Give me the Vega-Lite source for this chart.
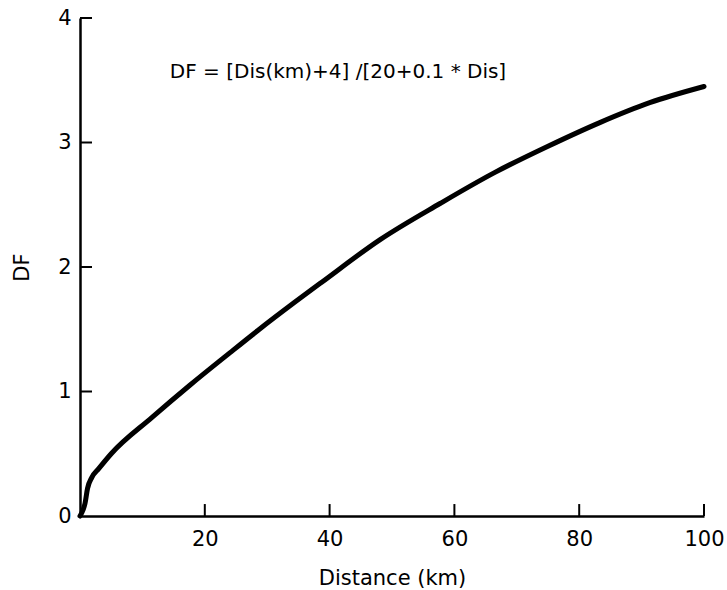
{
  "$schema": "https://vega.github.io/schema/vega-lite/v6.json",
  "width": 624,
  "height": 498,
  "autosize": "none",
  "padding": {"left": 80, "top": 18, "right": 23, "bottom": 74},
  "background": "white",
  "config": {
    "view": {"stroke": null},
    "font": "DejaVu Sans",
    "axis": {
      "grid": false,
      "ticks": false,
      "labelFlush": false,
      "domainColor": "black",
      "domainWidth": 2.5,
      "labelColor": "black",
      "titleColor": "black",
      "titleFontWeight": "normal"
    }
  },
  "layer": [
    {
      "data": {
        "values": [
          {"dis": 0, "df": 0},
          {"dis": 0.5, "df": 0.05},
          {"dis": 0.8, "df": 0.1},
          {"dis": 1.2, "df": 0.22},
          {"dis": 1.9, "df": 0.31},
          {"dis": 3, "df": 0.38},
          {"dis": 5, "df": 0.5},
          {"dis": 11.5, "df": 0.79},
          {"dis": 17.6, "df": 1.05},
          {"dis": 24, "df": 1.31},
          {"dis": 28.5, "df": 1.49},
          {"dis": 34.5, "df": 1.72},
          {"dis": 38.8, "df": 1.88},
          {"dis": 48.1, "df": 2.22},
          {"dis": 57.7, "df": 2.51},
          {"dis": 66.5, "df": 2.76},
          {"dis": 75, "df": 2.97},
          {"dis": 83.3, "df": 3.16},
          {"dis": 91.3, "df": 3.32},
          {"dis": 100, "df": 3.45}
        ]
      },
      "mark": {"type": "line", "color": "black", "strokeWidth": 5, "interpolate": "monotone", "strokeCap": "round"},
      "encoding": {
        "x": {
          "field": "dis", "type": "quantitative",
          "scale": {"domain": [0, 100], "nice": false},
          "axis": {"title": "Distance (km)", "values": [20, 40, 60, 80, 100], "format": "d",
                   "labelFont": "DejaVu Sans", "labelFontSize": 21, "labelPadding": 12,
                   "titleFont": "DejaVu Sans", "titleFontSize": 21, "titlePadding": 18}
        },
        "y": {
          "field": "df", "type": "quantitative",
          "scale": {"domain": [0, 4], "nice": false},
          "axis": {"title": "DF", "values": [0, 1, 2, 3, 4], "format": "d",
                   "labelFont": "DejaVu Sans", "labelFontSize": 21, "labelPadding": 9,
                   "titleFont": "DejaVu Sans", "titleFontSize": 21, "titlePadding": 25}
        }
      }
    },
    {
      "data": {"values": [{"v": 20}, {"v": 40}, {"v": 60}, {"v": 80}, {"v": 100}]},
      "mark": {"type": "rule", "color": "black", "strokeWidth": 2},
      "encoding": {
        "x": {"field": "v", "type": "quantitative"},
        "y": {"datum": 0, "type": "quantitative"},
        "y2": {"datum": 0.096}
      }
    },
    {
      "data": {"values": [{"v": 1}, {"v": 2}, {"v": 3}, {"v": 4}]},
      "mark": {"type": "rule", "color": "black", "strokeWidth": 2},
      "encoding": {
        "y": {"field": "v", "type": "quantitative"},
        "x": {"datum": 0, "type": "quantitative"},
        "x2": {"datum": 1.92}
      }
    },
    {
      "data": {"values": [{"dis": 14.4, "df": 3.57, "label": "DF = [Dis(km)+4] /[20+0.1 * Dis]"}]},
      "mark": {"type": "text", "align": "left", "baseline": "middle", "fontSize": 20, "font": "DejaVu Sans", "color": "black"},
      "encoding": {
        "x": {"field": "dis", "type": "quantitative"},
        "y": {"field": "df", "type": "quantitative"},
        "text": {"field": "label"}
      }
    }
  ]
}
